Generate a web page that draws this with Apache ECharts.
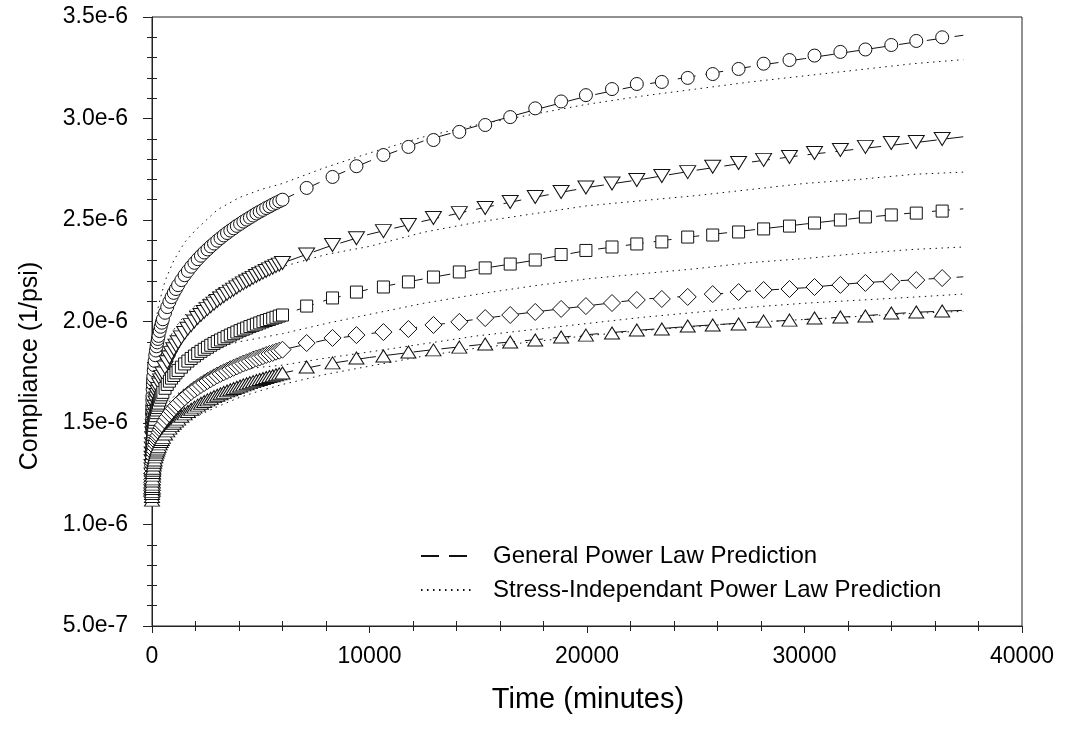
<!DOCTYPE html>
<html>
<head>
<meta charset="utf-8">
<script src="https://cdn.jsdelivr.net/npm/echarts@6/dist/echarts.min.js"></script>
<style>
  html, body { margin: 0; padding: 0; background: #fff; }
  #chart { width: 1065px; height: 731px; }
</style>
</head>
<body>
<div id="chart"></div>
<script>
// Creep compliance (in units of 1e-6 1/psi) against time (minutes)

// Measurement times: frequent readings during the first 6000 minutes, then roughly daily
const denseTimes = [0, 1, 2, 3, 5, 7, 10, 15, 20, 30, 40, 50, 60, 80, 100, 120, 150, 180, 210, 240,
  270, 300, 350, 400, 450, 500, 600, 700, 800, 900, 1000, 1100, 1200,
  1350, 1500, 1650, 1800, 1950, 2100, 2250, 2400, 2550, 2700, 2850, 3000, 3150, 3300, 3450, 3600,
  3750, 3900, 4050, 4200, 4350, 4500, 4650, 4800, 4950, 5100, 5250, 5400, 5550, 5700, 5850, 6000];
const sparseTimes = [7110, 8300, 9400, 10640, 11790, 12940, 14130, 15320, 16470, 17620, 18810,
  19950, 21150, 22290, 23440, 24630, 25780, 26970, 28120, 29310, 30460, 31650, 32800, 33990,
  35140, 36330];

// Measured compliance, one array per stress level (frequent part, then daily part)
const testA = [1.327, 1.472, 1.499, 1.517, 1.543, 1.562, 1.584, 1.612, 1.633, 1.666, 1.691, 1.712,
  1.730, 1.760, 1.785, 1.806, 1.834, 1.857, 1.878, 1.897, 1.914, 1.929, 1.953, 1.974, 1.994, 2.011,
  2.043, 2.071, 2.097, 2.120, 2.141, 2.160, 2.179,
  2.204, 2.228, 2.249, 2.270, 2.289, 2.307, 2.324, 2.340, 2.355, 2.370, 2.384, 2.398, 2.411, 2.424,
  2.436, 2.448, 2.459, 2.471, 2.481, 2.492, 2.502, 2.512, 2.522, 2.532, 2.541, 2.550, 2.559, 2.567,
  2.576, 2.584, 2.592, 2.600,
  2.658, 2.712, 2.765, 2.820, 2.860, 2.894, 2.934, 2.968, 3.007, 3.050, 3.084, 3.115, 3.145, 3.170,
  3.180, 3.200, 3.219, 3.244, 3.270, 3.288, 3.310, 3.328, 3.340, 3.362, 3.382, 3.400];
const testB = [1.220, 1.246, 1.271, 1.288, 1.312, 1.329, 1.350, 1.375, 1.395, 1.425, 1.448, 1.467,
  1.484, 1.512, 1.534, 1.554, 1.580, 1.601, 1.621, 1.638, 1.654, 1.668, 1.690, 1.710, 1.727, 1.744,
  1.773, 1.799, 1.823, 1.844, 1.863, 1.881, 1.898,
  1.922, 1.943, 1.964, 1.982, 2.000, 2.017, 2.032, 2.047, 2.061, 2.075, 2.088, 2.101, 2.113, 2.125,
  2.136, 2.147, 2.157, 2.168, 2.178, 2.188, 2.197, 2.206, 2.215, 2.224, 2.233, 2.241, 2.249, 2.257,
  2.265, 2.273, 2.280, 2.288,
  2.330, 2.377, 2.410, 2.445, 2.475, 2.510, 2.534, 2.559, 2.589, 2.613, 2.638, 2.660, 2.680, 2.697,
  2.717, 2.736, 2.762, 2.781, 2.796, 2.810, 2.830, 2.845, 2.860, 2.879, 2.884, 2.899];
const testC = [1.208, 1.302, 1.319, 1.331, 1.348, 1.360, 1.374, 1.392, 1.406, 1.427, 1.443, 1.457,
  1.469, 1.488, 1.504, 1.518, 1.536, 1.551, 1.564, 1.576, 1.588, 1.598, 1.613, 1.627, 1.639, 1.651,
  1.671, 1.690, 1.706, 1.721, 1.734, 1.747, 1.759,
  1.775, 1.791, 1.805, 1.818, 1.830, 1.842, 1.853, 1.863, 1.873, 1.883, 1.892, 1.901, 1.909, 1.917,
  1.925, 1.933, 1.940, 1.948, 1.955, 1.962, 1.968, 1.975, 1.981, 1.987, 1.993, 1.999, 2.005, 2.010,
  2.016, 2.021, 2.027, 2.032,
  2.076, 2.116, 2.145, 2.170, 2.195, 2.219, 2.244, 2.264, 2.283, 2.303, 2.330, 2.350, 2.367, 2.382,
  2.392, 2.416, 2.426, 2.441, 2.456, 2.470, 2.485, 2.500, 2.515, 2.525, 2.534, 2.544];
const testD = [1.140, 1.151, 1.168, 1.180, 1.196, 1.208, 1.222, 1.239, 1.253, 1.273, 1.289, 1.302,
  1.313, 1.332, 1.348, 1.361, 1.378, 1.393, 1.406, 1.418, 1.429, 1.439, 1.454, 1.467, 1.479, 1.490,
  1.510, 1.528, 1.544, 1.558, 1.572, 1.584, 1.596,
  1.612, 1.626, 1.640, 1.653, 1.665, 1.676, 1.687, 1.697, 1.707, 1.716, 1.725, 1.734, 1.742, 1.750,
  1.757, 1.765, 1.772, 1.779, 1.786, 1.793, 1.799, 1.805, 1.812, 1.818, 1.823, 1.829, 1.835, 1.840,
  1.845, 1.851, 1.856, 1.861,
  1.894, 1.919, 1.933, 1.948, 1.963, 1.983, 1.998, 2.017, 2.032, 2.047, 2.062, 2.076, 2.091, 2.106,
  2.111, 2.121, 2.135, 2.145, 2.155, 2.160, 2.170, 2.180, 2.190, 2.195, 2.204, 2.214];
const testE = [1.120, 1.138, 1.153, 1.163, 1.177, 1.187, 1.199, 1.214, 1.225, 1.243, 1.256, 1.267,
  1.277, 1.293, 1.307, 1.318, 1.333, 1.346, 1.357, 1.367, 1.376, 1.385, 1.397, 1.409, 1.419, 1.429,
  1.446, 1.461, 1.475, 1.487, 1.499, 1.509, 1.519,
  1.533, 1.545, 1.557, 1.568, 1.578, 1.588, 1.597, 1.606, 1.614, 1.622, 1.630, 1.637, 1.644, 1.651,
  1.658, 1.664, 1.670, 1.676, 1.682, 1.688, 1.693, 1.699, 1.704, 1.709, 1.714, 1.719, 1.724, 1.729,
  1.733, 1.738, 1.742, 1.746,
  1.776, 1.796, 1.820, 1.830, 1.850, 1.860, 1.874, 1.889, 1.899, 1.909, 1.924, 1.933, 1.943, 1.958,
  1.963, 1.978, 1.983, 1.988, 2.002, 2.007, 2.017, 2.022, 2.027, 2.042, 2.047, 2.052];

// General power law prediction
const generalTimes = [0, 10, 50, 150, 300, 600, 1200, 2000, 3000, 4500, 6000, 8000, 10000, 12500,
  15000, 17500, 20000, 22500, 25000, 27500, 30000, 32500, 35000, 37300];
const generalA = [1.33, 1.58, 1.71, 1.83, 1.93, 2.04, 2.18, 2.295, 2.40, 2.51, 2.60, 2.70, 2.79, 2.89,
  2.965, 3.04, 3.11, 3.165, 3.21, 3.255, 3.295, 3.335, 3.375, 3.41];
const generalB = [1.22, 1.35, 1.47, 1.58, 1.67, 1.77, 1.90, 2.005, 2.10, 2.206, 2.288, 2.365, 2.43,
  2.495, 2.555, 2.61, 2.66, 2.70, 2.745, 2.785, 2.82, 2.85, 2.88, 2.91];
const generalC = [1.21, 1.37, 1.46, 1.54, 1.60, 1.67, 1.76, 1.834, 1.90, 1.975, 2.032, 2.105, 2.16,
  2.21, 2.258, 2.30, 2.35, 2.385, 2.42, 2.45, 2.48, 2.51, 2.535, 2.555];
const generalD = [1.14, 1.22, 1.30, 1.38, 1.44, 1.51, 1.596, 1.669, 1.734, 1.805, 1.861, 1.91, 1.94,
  1.976, 2.012, 2.046, 2.077, 2.11, 2.127, 2.15, 2.166, 2.19, 2.205, 2.22];
const generalE = [1.12, 1.20, 1.27, 1.333, 1.385, 1.446, 1.519, 1.58, 1.637, 1.699, 1.746, 1.79,
  1.823, 1.856, 1.885, 1.909, 1.935, 1.958, 1.978, 1.995, 2.01, 2.027, 2.045, 2.055];

// Stress-independent power law prediction
const siTimes = [0, 20, 60, 150, 300, 600, 1000, 1500, 2000, 3000, 4000, 5000, 6000, 8000, 10000,
  12500, 15000, 17500, 20000, 22500, 25000, 27500, 30000, 32500, 35000, 37300];
const siA = [1.30, 1.64, 1.80, 1.98, 2.08, 2.20, 2.30, 2.39, 2.45, 2.55, 2.61, 2.65, 2.68, 2.76, 2.83,
  2.91, 2.97, 3.02, 3.07, 3.11, 3.145, 3.18, 3.21, 3.24, 3.27, 3.29];
const siB = [1.15, 1.41, 1.53, 1.67, 1.77, 1.87, 1.96, 2.03, 2.08, 2.16, 2.21, 2.24, 2.27, 2.33, 2.37,
  2.44, 2.49, 2.53, 2.57, 2.595, 2.62, 2.65, 2.68, 2.70, 2.725, 2.736];
const siC = [1.20, 1.40, 1.48, 1.56, 1.63, 1.70, 1.76, 1.80, 1.83, 1.87, 1.90, 1.92, 1.94, 1.99, 2.035,
  2.09, 2.135, 2.175, 2.21, 2.235, 2.26, 2.29, 2.31, 2.335, 2.355, 2.367];
const siD = [1.15, 1.32, 1.39, 1.46, 1.52, 1.58, 1.63, 1.67, 1.69, 1.73, 1.76, 1.775, 1.785, 1.82, 1.85,
  1.89, 1.93, 1.96, 1.99, 2.02, 2.045, 2.07, 2.09, 2.105, 2.12, 2.135];
const siE = [1.12, 1.25, 1.30, 1.35, 1.39, 1.44, 1.48, 1.51, 1.53, 1.58, 1.625, 1.66, 1.69, 1.74, 1.78,
  1.83, 1.87, 1.90, 1.93, 1.955, 1.975, 1.995, 2.01, 2.025, 2.04, 2.05];

const GENERAL = 'General Power Law Prediction';
const STRESS_FREE = 'Stress-Independant Power Law Prediction';
const FONT = '"Liberation Sans", Arial, sans-serif';
const INK = '#111';

const testTimes = denseTimes.concat(sparseTimes);
const pairs = (xs, ys) => xs.map((x, i) => [x, ys[i]]);

const markerDefs = [
  { data: testA, symbol: 'circle', size: 13, rotate: 0 },
  { data: testB, symbol: 'triangle', size: [16, 13], rotate: 180 },
  { data: testC, symbol: 'rect', size: 12, rotate: 0 },
  { data: testD, symbol: 'diamond', size: [17, 17], rotate: 0 },
  { data: testE, symbol: 'triangle', size: [15, 12], rotate: 0 }
];

const series = [];
[generalA, generalB, generalC, generalD, generalE].forEach(ys => {
  series.push({
    name: GENERAL, type: 'line', data: pairs(generalTimes, ys), symbol: 'none',
    itemStyle: { color: INK },
    lineStyle: { color: INK, width: 1, type: [18, 10] }, z: 1, silent: true
  });
});
[siA, siB, siC, siD, siE].forEach(ys => {
  series.push({
    name: STRESS_FREE, type: 'line', data: pairs(siTimes, ys), symbol: 'none',
    itemStyle: { color: INK },
    lineStyle: { color: INK, width: 1, type: [1.5, 4.5] }, z: 1, silent: true
  });
});
markerDefs.forEach(m => {
  series.push({
    type: 'scatter', data: pairs(testTimes, m.data), symbol: m.symbol, symbolSize: m.size,
    symbolRotate: m.rotate,
    itemStyle: { color: '#fff', borderColor: INK, borderWidth: 1, opacity: 1 },
    z: 3, silent: true
  });
});

const axisColor = '#222';
const chart = echarts.init(document.getElementById('chart'), null, { renderer: 'canvas' });
chart.setOption({
  animation: false,
  backgroundColor: '#fff',
  grid: { left: 152, right: 43, top: 17, bottom: 105, show: true, borderColor: axisColor, borderWidth: 1 },
  legend: {
    data: [GENERAL, STRESS_FREE],
    orient: 'vertical', left: 415, top: 539,
    itemWidth: 50, itemHeight: 14, itemGap: 10,
    itemStyle: { opacity: 0 },
    textStyle: { fontFamily: FONT, fontSize: 24, color: '#000', lineHeight: 24, padding: [0, 0, 0, 17] },
    selectedMode: false
  },
  xAxis: [
    {
      type: 'value', min: 0, max: 40000, interval: 10000, position: 'bottom',
      axisLine: { onZero: false, lineStyle: { color: axisColor, width: 1 } },
      axisTick: { length: 7, lineStyle: { color: axisColor } },
      minorTick: { show: true, splitNumber: 5, length: 5, lineStyle: { color: axisColor } },
      splitLine: { show: false }, minorSplitLine: { show: false },
      axisLabel: { fontFamily: FONT, fontSize: 23, color: '#000', margin: 19, formatter: v => String(v) }
    },
    {
      type: 'value', min: 0, max: 40000, interval: 10000, position: 'bottom',
      axisLine: { show: false, onZero: false },
      axisTick: { show: false, inside: true },
      minorTick: { show: true, splitNumber: 5, length: 5, lineStyle: { color: axisColor } },
      splitLine: { show: false }, axisLabel: { show: false }
    }
  ],
  yAxis: [
    {
      type: 'value', min: 0.5, max: 3.5, interval: 0.5, position: 'left',
      axisLine: { onZero: false, lineStyle: { color: axisColor, width: 1 } },
      axisTick: { length: 9, lineStyle: { color: axisColor } },
      minorTick: { show: true, splitNumber: 5, length: 5, lineStyle: { color: axisColor } },
      splitLine: { show: false }, minorSplitLine: { show: false },
      axisLabel: {
        fontFamily: FONT, fontSize: 23, color: '#000', margin: 24,
        formatter: v => (v * 1e-6).toExponential(1)
      }
    },
    {
      type: 'value', min: 0.5, max: 3.5, interval: 0.5, position: 'left',
      axisLine: { show: false, onZero: false },
      axisTick: { show: false, inside: true },
      minorTick: { show: true, splitNumber: 5, length: 5, lineStyle: { color: axisColor } },
      splitLine: { show: false }, axisLabel: { show: false }
    }
  ],
  graphic: [
    {
      type: 'text', x: 30, y: 366, rotation: Math.PI / 2, silent: true,
      style: { text: 'Compliance (1/psi)', font: '25px ' + FONT, fill: '#000',
        align: 'center', verticalAlign: 'middle', textAlign: 'center', textVerticalAlign: 'middle' }
    },
    {
      type: 'text', x: 588, y: 700, silent: true,
      style: { text: 'Time (minutes)', font: '29px ' + FONT, fill: '#000',
        align: 'center', verticalAlign: 'middle', textAlign: 'center', textVerticalAlign: 'middle' }
    }
  ],
  series: series
});
</script>
</body>
</html>
